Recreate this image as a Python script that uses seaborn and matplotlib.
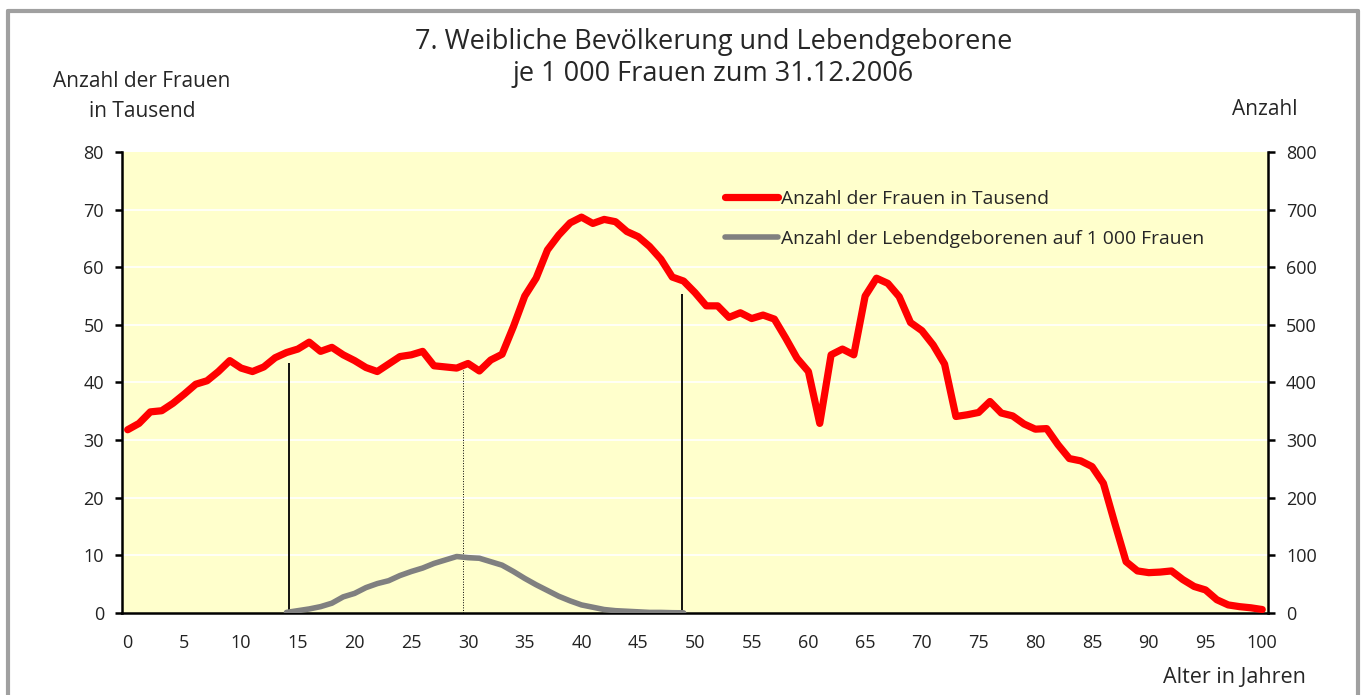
import numpy as np
import pandas as pd
import seaborn as sns
import matplotlib.pyplot as plt
from matplotlib.lines import Line2D

# ages 0..100
ages = list(range(0, 101))

# women per age in thousands
women = [31.8, 32.9, 34.9, 35.1, 36.4, 38.0, 39.7, 40.3, 41.9, 43.8,
         42.5, 41.9, 42.7, 44.3, 45.2, 45.8, 47.0, 45.4, 46.1, 44.8,
         43.8, 42.6, 41.9, 43.2, 44.5, 44.8, 45.4, 42.9, 42.7, 42.5,
         43.3, 42.0, 43.9, 44.9, 49.7, 55.0, 58.1, 63.0, 65.6, 67.7,
         68.7, 67.6, 68.3, 67.9, 66.2, 65.3, 63.6, 61.4, 58.3, 57.6,
         55.6, 53.3, 53.3, 51.3, 52.1, 51.1, 51.7, 51.0, 47.7, 44.2,
         41.9, 32.9, 44.8, 45.8, 44.8, 55.0, 58.1, 57.2, 54.9, 50.4,
         49.0, 46.5, 43.2, 34.1, 34.4, 34.8, 36.7, 34.7, 34.2, 32.8,
         31.9, 32.0, 29.2, 26.8, 26.4, 25.4, 22.5, 15.6, 8.9, 7.3,
         7.0, 7.1, 7.3, 5.8, 4.6, 4.0, 2.3, 1.4, 1.1, 0.9, 0.6]

# live births per 1000 women, ages 14..49
birth_ages = list(range(14, 50))
births = [1, 4, 7, 11, 17, 28, 34, 44, 51, 56,
          65, 72, 78, 86, 92, 98, 96, 95, 89, 83,
          72, 60, 49, 39, 29, 21, 14, 10, 6, 4,
          3, 2, 1, 1, 0.5, 0.3]

# marker lines (age, height in thousands)
marker_age = [14.2, 29.6, 48.9]
marker_top = [43.4, 42.2, 55.3]
marker_style = ['-', ':', '-']

x_labels = [str(v) for v in range(0, 101, 5)]

df_w = pd.DataFrame({'Alter': ages, 'Frauen': women})
df_b = pd.DataFrame({'Alter': birth_ages, 'Geborene': births})

sns.set_style('white')
plt.rcParams['font.family'] = ['Open Sans', 'DejaVu Sans']

fig = plt.figure(figsize=(13.66, 6.95), dpi=100)
ax = fig.add_axes([0.0893, 0.1180, 0.8389, 0.6633])
ax.set_facecolor('#FFFFCC')
ax2 = ax.twinx()

for y in range(10, 80, 10):
    ax.axhline(y, color='white', lw=1.2, zorder=0)

for a, t, ls in zip(marker_age, marker_top, marker_style):
    ax.vlines(a, 0, t, colors='black', linestyles=ls,
              lw=1.3 if ls == '-' else 0.7, zorder=2)

sns.lineplot(data=df_w, x='Alter', y='Frauen', ax=ax, color='#FF0000',
             lw=5.2, solid_capstyle='round', zorder=3, legend=False)
sns.lineplot(data=df_b, x='Alter', y='Geborene', ax=ax2, color='#808080',
             lw=4.0, solid_capstyle='round', zorder=3, legend=False)

ax.set_xlim(-0.5, 100.5)
ax.set_ylim(0, 80)
ax2.set_ylim(0, 800)
ax.set_yticks(range(0, 81, 10))
ax2.set_yticks(range(0, 801, 100))
ax.set_xticks(range(0, 101, 5))
ax.set_xticklabels(x_labels)
ax.set_xticks(np.arange(-0.5, 101, 5), minor=True)
ax.set_xlabel('')
ax.set_ylabel('')
ax2.set_ylabel('')

for a in (ax, ax2):
    for s in a.spines.values():
        s.set_visible(False)
ax.spines['left'].set_visible(True)
ax.spines['bottom'].set_visible(True)
ax2.spines['right'].set_visible(True)
for s in (ax.spines['left'], ax.spines['bottom'], ax2.spines['right']):
    s.set_color('black')
    s.set_linewidth(1.8)

fs = 13
ax.tick_params(axis='x', which='major', length=0, pad=15, labelsize=fs, colors='#222222')
ax.tick_params(axis='x', which='minor', length=5, width=1.8, direction='out', color='black')
ax.tick_params(axis='y', length=5, width=1.8, direction='out', pad=8,
               labelsize=fs, colors='#222222', left=True)
ax2.tick_params(axis='y', length=5, width=1.8, direction='out', pad=8,
                labelsize=fs, colors='#222222', right=True)
ax.tick_params(axis='both', color='black')
ax2.tick_params(axis='both', color='black')

handles = [Line2D([], [], color='#FF0000', lw=5.2, solid_capstyle='round'),
           Line2D([], [], color='#808080', lw=4.0, solid_capstyle='round')]
ax2.legend(handles, ['Anzahl der Frauen in Tausend',
                     'Anzahl der Lebendgeborenen auf 1 000 Frauen'],
           loc='center left', bbox_to_anchor=(0.526, 0.8557), frameon=False,
           fontsize=13.9, handlelength=2.75, handletextpad=0.15,
           labelspacing=1.14, borderaxespad=0, borderpad=0)

fig.text(0.5223, 0.9395, '7. Weibliche Bevölkerung und Lebendgeborene',
         ha='center', va='center', fontsize=19.5)
fig.text(0.5223, 0.8935, 'je 1 000 Frauen zum 31.12.2006',
         ha='center', va='center', fontsize=19.5)
fig.text(0.104, 0.861, 'Anzahl der Frauen\nin Tausend', ha='center',
         va='center', fontsize=15, linespacing=1.55)
fig.text(0.926, 0.842, 'Anzahl', ha='center', va='center', fontsize=15)
fig.text(0.956, 0.025, 'Alter in Jahren', ha='right', va='center', fontsize=15.5)

# outer frame
frame_kw = dict(color='#A0A0A0', lw=3, transform=fig.transFigure)
fig.add_artist(Line2D([0.0055, 0.0055], [-0.01, 0.9835], **frame_kw))
fig.add_artist(Line2D([0.0055, 0.9945], [0.9835, 0.9835], **frame_kw))
fig.add_artist(Line2D([0.9945, 0.9945], [-0.01, 0.9835], **frame_kw))

fig.savefig('out.png', dpi=100)
